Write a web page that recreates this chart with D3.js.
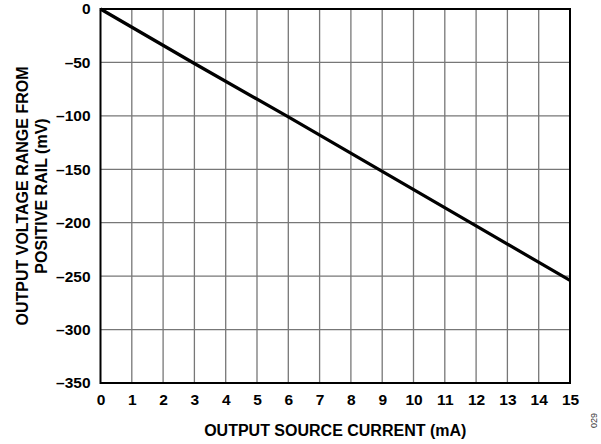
<!DOCTYPE html>
<html>
<head>
<meta charset="utf-8">
<script src="https://cdn.jsdelivr.net/npm/d3@7"></script>
<style>
  body { margin: 0; background: #fff; }
  text { font-family: "Liberation Sans", Arial, sans-serif; font-weight: bold; }
  text.code { font-weight: normal; }
</style>
</head>
<body>
<svg id="chart" width="601" height="444"></svg>
<script>
// data
const current = [0, 3, 6, 9, 12, 15];            // mA
const voltage = [0, -51, -101, -152, -203, -254]; // mV
const xTicks = d3.range(0, 16, 1);
const yTicks = [0, -50, -100, -150, -200, -250, -300, -350];

const margin = { top: 9, right: 31, bottom: 61, left: 100.5 };
const width = 601, height = 444;

const svg = d3.select('#chart');
const chart = svg.append('g')
    .attr('transform', `translate(${margin.left}, ${margin.top})`);

const innerW = 570 - margin.left;
const innerH = 383 - margin.top;

const xscale = d3.scaleLinear().domain([0, 15]).range([0, innerW]);
const yscale = d3.scaleLinear().domain([-350, 0]).range([innerH, 0]);

// grid
chart.append('g')
    .selectAll('line')
    .data(xTicks.slice(1, -1))
    .join('line')
    .attr('x1', d => xscale(d)).attr('x2', d => xscale(d))
    .attr('y1', 0).attr('y2', innerH)
    .attr('stroke', '#777').attr('stroke-width', 1.3);

chart.append('g')
    .selectAll('line')
    .data(yTicks.slice(1, -1))
    .join('line')
    .attr('x1', 0).attr('x2', innerW)
    .attr('y1', d => yscale(d)).attr('y2', d => yscale(d))
    .attr('stroke', '#777').attr('stroke-width', 1.3);

// frame
chart.append('rect')
    .attr('width', innerW).attr('height', innerH)
    .attr('fill', 'none').attr('stroke', '#000').attr('stroke-width', 2);

// axes (labels only)
const xaxis = d3.axisBottom(xscale).tickValues(xTicks).tickSize(0).tickPadding(11)
    .tickFormat(d3.format('d'));
const yaxis = d3.axisLeft(yscale).tickValues(yTicks).tickSize(0).tickPadding(10)
    .tickFormat(d => d < 0 ? '\u2013' + Math.abs(d) : d);

chart.append('g').attr('transform', `translate(0, ${innerH})`).call(xaxis)
    .call(g => g.select('.domain').remove())
    .selectAll('text').attr('font-size', 15.5).attr('fill', '#000')
    .attr('font-family', '"Liberation Sans", Arial, sans-serif');
chart.append('g').call(yaxis)
    .call(g => g.select('.domain').remove())
    .selectAll('text').attr('font-size', 15.5).attr('fill', '#000')
    .attr('font-family', '"Liberation Sans", Arial, sans-serif');

// series
const line = d3.line().x((d, i) => xscale(current[i])).y(d => yscale(d));
chart.append('path')
    .datum(voltage)
    .attr('d', line)
    .attr('fill', 'none')
    .attr('stroke', '#000')
    .attr('stroke-width', 3.2);

// titles
svg.append('text')
    .attr('x', margin.left + innerW / 2).attr('y', 436)
    .attr('text-anchor', 'middle').attr('font-size', 16)
    .text('OUTPUT SOURCE CURRENT (mA)');

const ytitle = svg.append('text')
    .attr('transform', `translate(0, ${margin.top + innerH / 2}) rotate(-90)`)
    .attr('text-anchor', 'middle').attr('font-size', 16);
ytitle.append('tspan').attr('x', 0).attr('y', 28).text('OUTPUT VOLTAGE RANGE FROM');
ytitle.append('tspan').attr('x', 0).attr('y', 47).text('POSITIVE RAIL (mV)');

svg.append('text')
    .attr('class', 'code')
    .attr('transform', 'translate(597, 428) rotate(-90)')
    .attr('font-size', 9)
    .attr('fill', '#333')
    .text('029');
</script>
</body>
</html>
